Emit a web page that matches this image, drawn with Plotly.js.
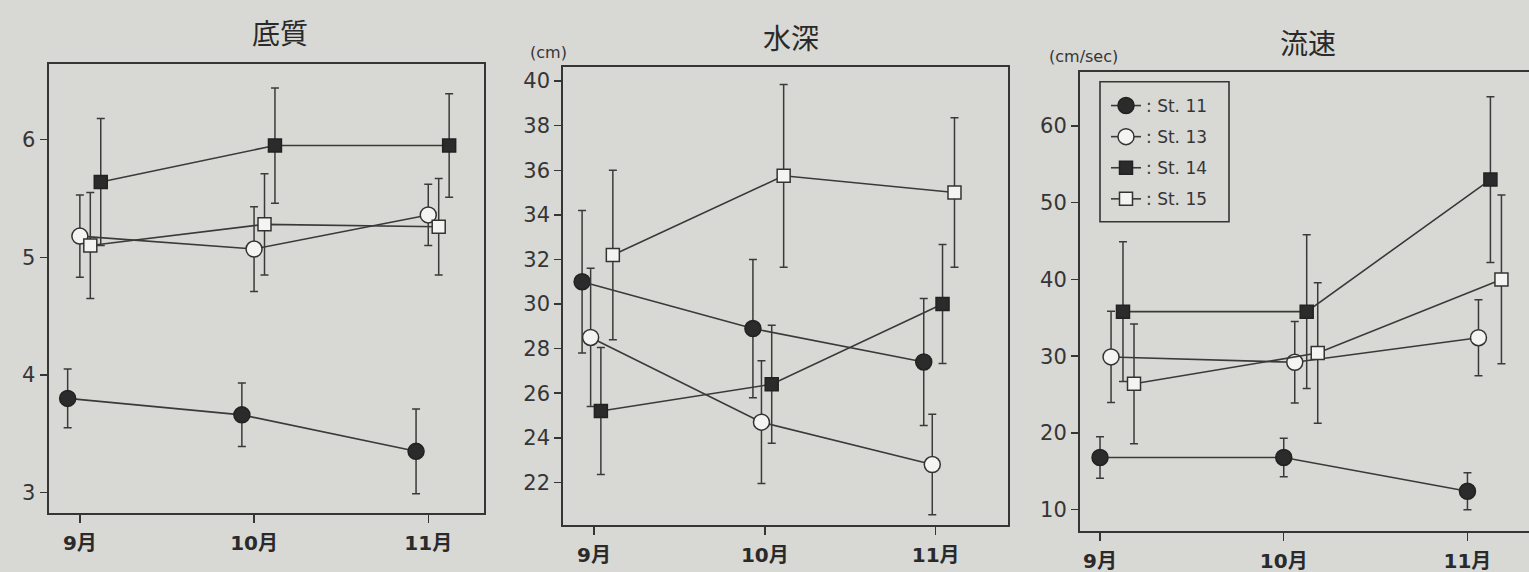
<!DOCTYPE html>
<html>
<head>
<meta charset="utf-8">
<script src="https://cdn.plot.ly/plotly-3.0.1.min.js"></script>
<style>
html,body{margin:0;padding:0;background:#d8d8d5;}
#chart{width:1529px;height:572px;}
</style>
</head>
<body>
<div id="chart"></div>
<script>
// ---- data ----
const months = ['9月', '10月', '11月'];
const stations = ['St. 11', 'St. 13', 'St. 14', 'St. 15'];
const panelTitles = ['底質', '水深', '流速'];
const unitLabels = ['', '(cm)', '(cm/sec)'];

// 底質
const substrate_st11 = [3.80, 3.66, 3.35];
const substrate_st11_err = [0.25, 0.27, 0.36];
const substrate_st13 = [5.18, 5.07, 5.36];
const substrate_st13_err = [0.35, 0.36, 0.26];
const substrate_st14 = [5.64, 5.95, 5.95];
const substrate_st14_err = [0.54, 0.49, 0.44];
const substrate_st15 = [5.10, 5.28, 5.26];
const substrate_st15_err = [0.45, 0.43, 0.41];

// 水深 (cm)
const depth_st11 = [31.0, 28.9, 27.4];
const depth_st11_err = [3.2, 3.1, 2.85];
const depth_st13 = [28.5, 24.7, 22.8];
const depth_st13_err = [3.1, 2.75, 2.25];
const depth_st14 = [25.2, 26.4, 30.0];
const depth_st14_err = [2.85, 2.65, 2.67];
const depth_st15 = [32.2, 35.75, 35.0];
const depth_st15_err = [3.8, 4.1, 3.35];

// 流速 (cm/sec)
const velocity_st11 = [16.8, 16.8, 12.4];
const velocity_st11_err = [2.7, 2.5, 2.4];
const velocity_st13 = [29.9, 29.2, 32.4];
const velocity_st13_err = [5.95, 5.3, 4.95];
const velocity_st14 = [35.8, 35.8, 53.0];
const velocity_st14_err = [9.1, 10.0, 10.8];
const velocity_st15 = [26.4, 30.4, 40.0];
const velocity_st15_err = [7.8, 9.15, 11.0];

// ---- styling / positioning (not data) ----
const W = 1529, H = 572;
const ink = '#353535';
const bg = '#d8d8d5';
const xShift = [
  [-0.07, 0.0, 0.12, 0.06],
  [-0.07, -0.02, 0.04, 0.11],
  [0.0, 0.06, 0.125, 0.185]
];
const markerStyle = [
  {symbol: 'circle', size: 16, color: '#2b2b2b', line: {color: '#222', width: 1.5}},
  {symbol: 'circle', size: 16, color: '#f4f4f2', line: {color: '#333', width: 1.5}},
  {symbol: 'square', size: 13, color: '#2b2b2b', line: {color: '#222', width: 1.5}},
  {symbol: 'square', size: 13, color: '#f4f4f2', line: {color: '#333', width: 1.5}}
];
const panels = [
  {vals: [substrate_st11, substrate_st13, substrate_st14, substrate_st15],
   errs: [substrate_st11_err, substrate_st13_err, substrate_st14_err, substrate_st15_err]},
  {vals: [depth_st11, depth_st13, depth_st14, depth_st15],
   errs: [depth_st11_err, depth_st13_err, depth_st14_err, depth_st15_err]},
  {vals: [velocity_st11, velocity_st13, velocity_st14, velocity_st15],
   errs: [velocity_st11_err, velocity_st13_err, velocity_st14_err, velocity_st15_err]}
];
// pixel boxes [left, right, top, bottom]
const boxes = [[48.5, 484, 63.8, 512.6], [563.3, 1008.3, 66.8, 525.4], [1080, 1529, 71.9, 530.8]];
const xRanges = [[-0.18, 2.32], [-0.18, 2.425], [-0.109, 2.335]];
const yRanges = [[2.829, 6.645], [20.07, 40.64], [7.25, 67.03]];
const yTicks = [[3, 4, 5, 6], [22, 24, 26, 28, 30, 32, 34, 36, 38, 40], [10, 20, 30, 40, 50, 60]];

const traces = [];
panels.forEach((p, pi) => {
  const sfx = pi === 0 ? '' : String(pi + 1);
  stations.forEach((st, si) => {
    traces.push({
      type: 'scatter', mode: 'lines+markers',
      x: months.map((m, mi) => mi + xShift[pi][si]),
      y: p.vals[si],
      error_y: {type: 'data', array: p.errs[si], visible: true, color: '#3a3a3a', thickness: 1.5, width: 4},
      line: {color: '#3a3a3a', width: 1.6},
      marker: markerStyle[si],
      name: ': ' + st,
      legendgroup: 'g' + si,
      showlegend: pi === 2,
      xaxis: 'x' + sfx, yaxis: 'y' + sfx,
      hoverinfo: 'skip'
    });
  });
});

const layout = {
  width: W, height: H,
  margin: {l: 0, r: 0, t: 0, b: 0},
  paper_bgcolor: bg, plot_bgcolor: bg,
  showlegend: true,
  legend: {
    x: 1106 / W, y: 1 - 88 / H, xanchor: 'left', yanchor: 'top',
    bgcolor: 'rgba(0,0,0,0)', borderwidth: 0,
    font: {family: 'DejaVu Sans, sans-serif', size: 17, color: '#353535'},
    tracegroupgap: 6, itemwidth: 30
  },
  shapes: [{
    type: 'rect', xref: 'paper', yref: 'paper',
    x0: 1100 / W, x1: 1229 / W, y0: 1 - 221.7 / H, y1: 1 - 81.7 / H,
    line: {color: ink, width: 1.6}, fillcolor: 'rgba(0,0,0,0)'
  }],
  annotations: [],
  font: {family: 'DejaVu Sans, Noto Sans CJK JP, sans-serif', color: ink}
};

boxes.forEach((b, pi) => {
  const sfx = pi === 0 ? '' : String(pi + 1);
  layout['xaxis' + sfx] = {
    domain: [b[0] / W, b[1] / W], range: xRanges[pi],
    anchor: 'y' + sfx,
    tickvals: [0, 1, 2], ticktext: months,
    showline: true, linecolor: ink, linewidth: 2, mirror: true,
    ticks: 'outside', ticklen: 8, tickwidth: 1.5, tickcolor: ink,
    ticklabelstandoff: 3,
    showgrid: false, zeroline: false,
    tickfont: {family: 'DejaVu Sans, Noto Sans CJK JP, sans-serif', size: 20, color: '#2a2a2a', weight: 'bold'}
  };
  layout['yaxis' + sfx] = {
    domain: [1 - b[3] / H, 1 - b[2] / H], range: yRanges[pi],
    anchor: 'x' + sfx,
    tickvals: yTicks[pi],
    showline: true, linecolor: ink, linewidth: 2, mirror: pi !== 2,
    ticks: 'outside', ticklen: 7, tickwidth: 1.5, tickcolor: ink,
    showgrid: false, zeroline: false,
    tickfont: {family: 'DejaVu Sans, sans-serif', size: 21, color: '#353535'}
  };
});

const titlePos = [[280, 32], [791, 37.5], [1307.5, 42]];
panelTitles.forEach((t, i) => {
  layout.annotations.push({
    text: t, xref: 'paper', yref: 'paper',
    x: titlePos[i][0] / W, y: 1 - titlePos[i][1] / H,
    xanchor: 'center', yanchor: 'middle', showarrow: false,
    font: {family: 'Noto Sans CJK JP, sans-serif', size: 28, color: '#2a2a2a'}
  });
});
const unitPos = [[0, 0], [548, 52], [1083, 56.5]];
unitLabels.forEach((u, i) => {
  if (!u) return;
  layout.annotations.push({
    text: u, xref: 'paper', yref: 'paper',
    x: unitPos[i][0] / W, y: 1 - unitPos[i][1] / H,
    xanchor: 'center', yanchor: 'middle', showarrow: false,
    font: {family: 'DejaVu Sans, sans-serif', size: 16, color: '#353535'}
  });
});

Plotly.newPlot('chart', traces, layout, {staticPlot: true, displayModeBar: false});
</script>
</body>
</html>
